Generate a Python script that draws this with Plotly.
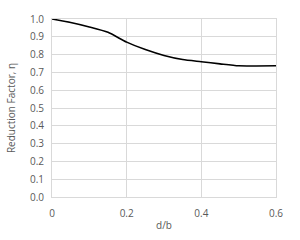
import plotly.graph_objects as go

d_over_b = [0.0, 0.05, 0.10, 0.15, 0.20, 0.25, 0.30, 0.35, 0.40, 0.45, 0.50, 0.60]
eta = [1.000, 0.980, 0.955, 0.925, 0.870, 0.828, 0.795, 0.772, 0.760, 0.748, 0.737, 0.737]

x_ticks = [0, 0.2, 0.4, 0.6]
x_tick_text = ["0", "0.2", "0.4", "0.6"]
y_ticks = [0.0, 0.1, 0.2, 0.3, 0.4, 0.5, 0.6, 0.7, 0.8, 0.9, 1.0]
y_tick_text = [f"{v:.1f}" for v in y_ticks]

fig = go.Figure(go.Scatter(
    x=d_over_b, y=eta, mode="lines",
    line=dict(color="black", width=1.6, shape="spline", smoothing=0.6),
    hoverinfo="skip",
))

font = dict(family="Open Sans, Liberation Sans, sans-serif", size=10, color="#595959")

fig.update_layout(
    width=300, height=240,
    margin=dict(l=49, r=24, t=11, b=34),
    paper_bgcolor="white", plot_bgcolor="white",
    showlegend=False,
    font=font,
    xaxis=dict(
        range=[0, 0.6], tickvals=x_ticks, ticktext=x_tick_text,
        showgrid=True, gridcolor="#d9d9d9", gridwidth=1,
        showline=True, linecolor="#d9d9d9", mirror=True,
        zeroline=False, ticks="", ticklabelstandoff=7,
        title=dict(text="d/b", font=font, standoff=2),
        fixedrange=True,
    ),
    yaxis=dict(
        range=[0, 1.0], tickvals=y_ticks, ticktext=y_tick_text,
        showgrid=True, gridcolor="#d9d9d9", gridwidth=1,
        showline=True, linecolor="#d9d9d9", mirror=True,
        zeroline=False, ticks="", ticklabelstandoff=5,
        title=dict(text="Reduction Factor, η", font=font, standoff=12),
        fixedrange=True,
    ),
)

fig.write_html("out.html", config={"displayModeBar": False})
